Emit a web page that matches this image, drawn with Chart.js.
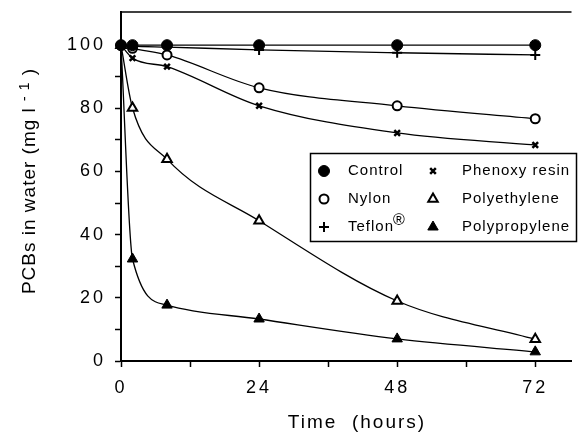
<!DOCTYPE html>
<html>
<head>
<meta charset="utf-8">
<script src="https://cdn.jsdelivr.net/npm/chart.js@4/dist/chart.umd.min.js"></script>
<style>
html, body { margin: 0; padding: 0; background: #fff; }
</style>
</head>
<body>
<canvas id="myChart" width="579" height="435"></canvas>
<script>
// sampling times (hours) and PCB concentration
var hours = [0, 2, 8, 24, 48, 72];
var control = [100, 100, 100, 100, 100, 100];
var nylon = [100, 99, 96.9, 86.5, 80.8, 76.7];
var teflon = [100, 99.7, 99.4, 98.5, 97.6, 96.9];
var phenoxy = [100, 95.9, 93.2, 80.8, 72.2, 68.4];
var polyethylene = [100, 80.1, 63.9, 44.4, 19.0, 6.9];
var polypropylene = [100, 32.3, 17.7, 13.3, 7.0, 2.9];

var xTicks = [0, 12, 24, 36, 48, 60, 72];
var yTicks = [0, 10, 20, 30, 40, 50, 60, 70, 80, 90, 100];

var xTitle = "Time  (hours)";
var FONT = '"Liberation Sans", Arial, sans-serif';

function makeSet(label, values, style, bg, radius, bw) {
    return {
        label: label,
        data: hours.map(function (h, i) { return { x: h, y: values[i] }; }),
        borderColor: "#000",
        borderWidth: 1.3,
        cubicInterpolationMode: "monotone",
        fill: false,
        clip: false,
        pointStyle: style,
        pointRadius: radius,
        pointBackgroundColor: bg,
        pointBorderColor: "#000",
        pointBorderWidth: bw
    };
}

var framePlugin = {
    id: "frame",
    beforeDraw: function (chart) {
        chart.ctx.letterSpacing = "3px";
    },
    afterDraw: function (chart) {
        var ctx = chart.ctx, a = chart.chartArea;
        ctx.save();
        ctx.strokeStyle = "#000";
        ctx.lineWidth = 1.5;
        ctx.beginPath();
        ctx.moveTo(a.left, a.top);
        ctx.lineTo(a.right, a.top);
        ctx.stroke();

        // axis titles
        ctx.fillStyle = "#000";
        ctx.textBaseline = "middle";
        ctx.textAlign = "center";
        ctx.font = "19px " + FONT;
        ctx.letterSpacing = "2px";
        ctx.fillText(xTitle, 357, 423);

        ctx.translate(30, 181);
        ctx.rotate(-Math.PI / 2);
        ctx.letterSpacing = "1px";
        ctx.textAlign = "left";
        var parts = [["PCBs in water (mg l ", 19, 0], ["- 1", 14, -5], [" )", 19, 0]];
        var total = 0;
        parts.forEach(function (p) { ctx.font = p[1] + "px " + FONT; total += ctx.measureText(p[0]).width; });
        var px = -total / 2;
        parts.forEach(function (p) {
            ctx.font = p[1] + "px " + FONT;
            ctx.fillText(p[0], px, p[2]);
            px += ctx.measureText(p[0]).width;
        });
        ctx.restore();

        // legend box
        ctx.save();
        ctx.fillStyle = "#fff";
        ctx.fillRect(310, 153, 267, 89);
        ctx.strokeStyle = "#000";
        ctx.lineWidth = 1.5;
        ctx.strokeRect(310.5, 153.5, 266, 88);
        ctx.font = "15px " + FONT;
        ctx.letterSpacing = "1px";
        ctx.textBaseline = "middle";
        ctx.textAlign = "left";
        chart.data.datasets.forEach(function (ds, i) {
            var col = Math.floor(i / 3), row = i % 3;
            var sx = col === 0 ? 324 : 433;
            var tx = col === 0 ? 348 : 462;
            var y = 171 + row * 28;
            ctx.fillStyle = ds.pointBackgroundColor;
            ctx.strokeStyle = ds.pointBorderColor;
            ctx.lineWidth = ds.pointBorderWidth;
            Chart.helpers.drawPoint(ctx, {
                pointStyle: ds.pointStyle,
                radius: ds.pointRadius,
                rotation: 0,
                borderWidth: ds.pointBorderWidth
            }, sx, y);
            ctx.fillStyle = "#000";
            var txt = ds.label;
            if (txt.slice(-1) === "\u00AE") {
                var base = txt.slice(0, -1);
                ctx.font = "15px " + FONT;
                ctx.fillText(base, tx, y);
                var w = ctx.measureText(base).width;
                ctx.font = "16px " + FONT;
                ctx.fillText("\u00AE", tx + w - 1, y - 6);
                ctx.font = "15px " + FONT;
            } else {
                ctx.fillText(txt, tx, y);
            }
        });
        ctx.restore();
    }
};

var ctx = document.getElementById("myChart").getContext("2d");
var myChart = new Chart(ctx, {
    type: "line",
    data: {
        datasets: [
            makeSet("Control", control, "circle", "#000", 5.5, 1),
            makeSet("Nylon", nylon, "circle", "#fff", 4.5, 2),
            makeSet("Teflon\u00AE", teflon, "cross", "#000", 5, 2),
            makeSet("Phenoxy resin", phenoxy, "crossRot", "#000", 4, 2.5),
            makeSet("Polyethylene", polyethylene, "triangle", "#fff", 5.5, 2),
            makeSet("Polypropylene", polypropylene, "triangle", "#000", 6, 1)
        ]
    },
    options: {
        responsive: false,
        animation: false,
        layout: { padding: { top: 12, right: 0, left: 0, bottom: 0 } },
        plugins: {
            legend: { display: false },
            tooltip: { enabled: false }
        },
        scales: {
            x: {
                type: "linear",
                min: 0,
                max: 78.3,
                afterBuildTicks: function (s) { s.ticks = xTicks.map(function (v) { return { value: v }; }); },
                afterFit: function (s) { s.height = 74; s.paddingLeft = 0; s.paddingRight = 0; },
                ticks: {
                    autoSkip: false,
                    maxRotation: 0,
                    padding: 10,
                    color: "#000",
                    font: { family: FONT, size: 18 },
                    callback: function (v) { return v % 24 === 0 ? v : ""; }
                },
                grid: { drawOnChartArea: false, tickLength: 6, tickWidth: 1.5, tickColor: "#000" },
                border: { color: "#000", width: 2 }
            },
            y: {
                min: 0,
                max: 110.5,
                afterBuildTicks: function (s) { s.ticks = yTicks.map(function (v) { return { value: v }; }); },
                afterFit: function (s) { s.width = 121; s.paddingTop = 0; s.paddingBottom = 0; },
                ticks: {
                    autoSkip: false,
                    padding: 9,
                    color: "#000",
                    font: { family: FONT, size: 18 },
                    callback: function (v) { return v % 20 === 0 ? v : ""; }
                },
                grid: { drawOnChartArea: false, tickLength: 6, tickWidth: 1.5, tickColor: "#000" },
                border: { color: "#000", width: 2 }
            }
        }
    },
    plugins: [framePlugin]
});
</script>
</body>
</html>
